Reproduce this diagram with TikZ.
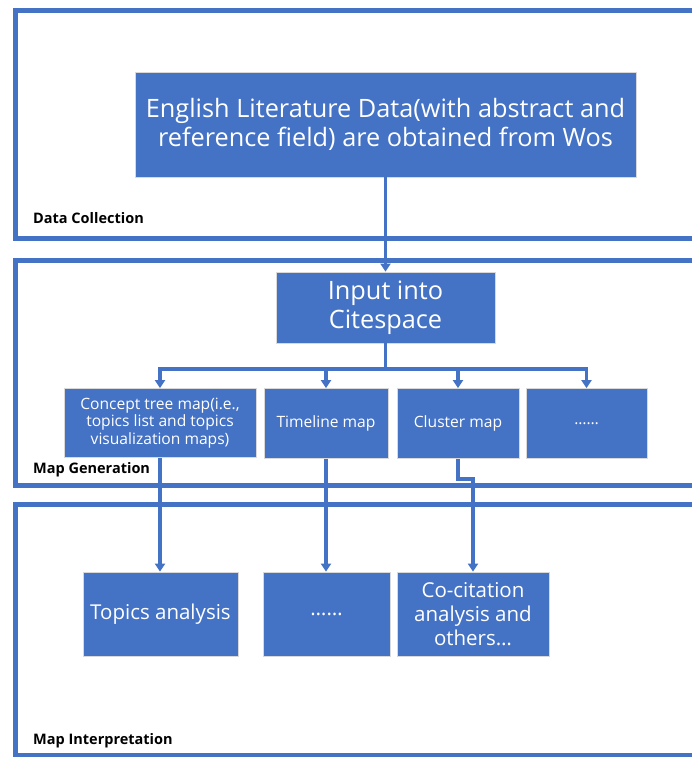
\documentclass[tikz,border=0pt]{standalone}
\usepackage{fontspec}
\setmainfont{Open Sans}
\usetikzlibrary{
  arrows.meta,
  calc
}
\definecolor{officeblue}{HTML}{4472C4}
\tikzset{
  % For the thick stage frames.
  frame/.style={
    draw=officeblue,
    line width=5pt},
%
  % For the stage titles.
  stage/.style={
    anchor=west,
    inner sep=0pt,
    font=\fontsize{14.5}{16}\bfseries\selectfont},
%
  % For filled process boxes.
  box/.style={
    fill=officeblue,
    draw=black!15,
    line width=0.8pt,
    text=white,
    align=center,
    inner sep=2pt},
%
  % Big, medium and small boxes.
  big box/.style={
    box,
    font=\fontsize{25.3}{29}\selectfont},
  mid box/.style={
    box,
    minimum height=84pt,
    font=\fontsize{20.5}{24}\selectfont},
  small box/.style={
    box,
    minimum height=70pt,
    font=\fontsize{15.6}{17.5}\selectfont},
%
  % For connectors.
  line/.style={
    draw=officeblue,
    line width=3.2pt},
  % For connectors with one arrow.
  direction/.style={
    line,
    -{Triangle[width=10pt,length=8pt]}}
}

\begin{document}
\begin{tikzpicture}[x=1pt,y=-1pt]
  \useasboundingbox (0,0) rectangle (692,757);
  \clip (0,0) rectangle (692,757);

  % Stage frames, open to the right.
  \draw[frame] (15.5,11) rectangle (720,238);
  \draw[frame] (15.5,260) rectangle (720,485);
  \draw[frame] (15.5,504) rectangle (720,755);

  \node[stage] (collectlabel) at (33,218) {Data Collection};
  \node[stage] (generatelabel) at (33,470) {Map Generation};
  \node[stage] (interpretlabel) at (33,741) {Map Interpretation};

  % Data collection.
  \node[big box, minimum width=501pt, minimum height=105pt] (data) at (385.5,124.5)
    {English Literature Data(with abstract and\\reference field) are obtained from Wos};

  % Map generation.
  \node[big box, minimum width=219pt, minimum height=71pt] (input) at (385.5,307.5)
    {Input into\\Citespace};
  \node[small box, minimum width=192pt, minimum height=69pt] (concept) at (160,423)
    {Concept tree map(i.e.,\\topics list and topics\\visualization maps)};
  \node[small box, minimum width=124pt] (timeline) at (326,423.5) {Timeline map};
  \node[small box, minimum width=122pt] (cluster) at (458,423.5) {Cluster map};
  \node[small box, minimum width=121pt] (moremap) at (586.5,423.5) {\ldots\ldots};

  % Map interpretation.
  \node[mid box, minimum width=155pt] (topics) at (160.5,614) {Topics analysis};
  \node[mid box, minimum width=127pt] (moreana) at (326.5,614) {\ldots\ldots};
  \node[mid box, minimum width=152pt] (cocite) at (473,614)
    {Co-citation\\analysis and\\others\ldots};

  % Connectors.
  \draw[direction] (data) -- (input);
  \coordinate (split) at (385.5,369);
  \draw[line] (input) -- (split);
  \foreach \n in {concept, timeline, cluster, moremap}
    {\draw[direction] (split) -| (\n);}

  \draw[direction] (concept.south) -- (concept.south |- topics.north);
  \draw[direction] (timeline.south) -- (timeline.south |- moreana.north);
  \coordinate (bend) at (458,479);
  \draw[direction] (cluster) -- (bend) -| (cocite);
\end{tikzpicture}
\end{document}
